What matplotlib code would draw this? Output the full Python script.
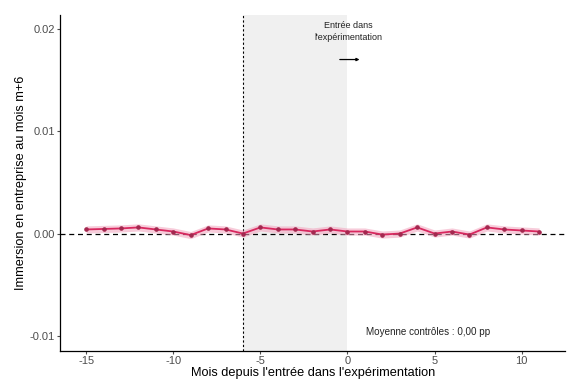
import matplotlib
matplotlib.use("Agg")
import matplotlib.pyplot as plt
import numpy as np

matplotlib.rcParams['font.family'] = ['Liberation Sans', 'DejaVu Sans']

# données
mois = list(range(-15, 12))
effet = [0.0004, 0.00045, 0.0005, 0.0006, 0.0004, 0.0002, -0.00015, 0.0005, 0.0004, 0.0,
         0.0006, 0.0004, 0.0004, 0.0002, 0.0004, 0.0002, 0.0002, -0.0001, 0.0, 0.0006,
         0.0, 0.0002, -0.0001, 0.0006, 0.0004, 0.0003, 0.0002]
ic_demi = [0.00035] * len(mois)
debut_zone = -6
fin_zone = 0
x_ticks = [-15, -10, -5, 0, 5, 10]
y_ticks = [-0.01, 0.0, 0.01, 0.02]
y_tick_labels = ['-0.01', '0.00', '0.01', '0.02']

fig = plt.figure(figsize=(5.67, 3.80), dpi=100)
ax = fig.add_axes([60 / 567, 1 - 351 / 380, 1 - 60 / 567 - 0.003, (351 - 15) / 380])

x = np.array(mois)
y = np.array(effet)
e = np.array(ic_demi)

ax.axvspan(debut_zone, fin_zone, color='#f0f0f0', zorder=0, lw=0)
ax.axvline(debut_zone, color='black', linestyle=(0, (2, 2)), linewidth=0.8, zorder=1)
ax.axhline(0, color='black', linestyle=(0, (4, 3)), linewidth=0.9, zorder=1)

ax.fill_between(x, y - e, y + e, color='#f2a2bd', alpha=0.55, lw=0, zorder=2)
ax.plot(x, y, color='#d8285f', linewidth=1.3, zorder=3)
ax.plot(x, y, 'o', color='#a3284f', markersize=2.3, zorder=4)

ax.text(0.06, 0.01975, "Entrée dans\nl'expérimentation", ha='center', va='center',
        fontsize=6.5, color='#222222', linespacing=1.45)
ax.annotate('', xy=(0.85, 0.01704), xytext=(-0.6, 0.01704),
            arrowprops=dict(arrowstyle='-|>', color='black', lw=0.9, mutation_scale=4))
ax.text(1.05, -0.00966, 'Moyenne contrôles : 0,00 pp', ha='left', va='center',
        fontsize=7.1, color='#222222')

ax.set_xlim(-16.5, 12.5)
ax.set_ylim(-0.0115, 0.0214)
ax.set_xticks(x_ticks)
ax.set_xticklabels([str(t) for t in x_ticks])
ax.set_yticks(y_ticks)
ax.set_yticklabels(y_tick_labels)
ax.tick_params(colors='#4d4d4d', labelsize=8, length=2.2, width=0.8, pad=1.5)

for s in ['top', 'right']:
    ax.spines[s].set_visible(False)
for s in ['left', 'bottom']:
    ax.spines[s].set_color('black')
    ax.spines[s].set_linewidth(0.9)

ax.set_xlabel("Mois depuis l'entrée dans l'expérimentation", fontsize=9.2, labelpad=0.5)
ax.set_ylabel('Immersion en entreprise au mois m+6', fontsize=9.2, labelpad=2)

fig.savefig('out.png', dpi=100)
